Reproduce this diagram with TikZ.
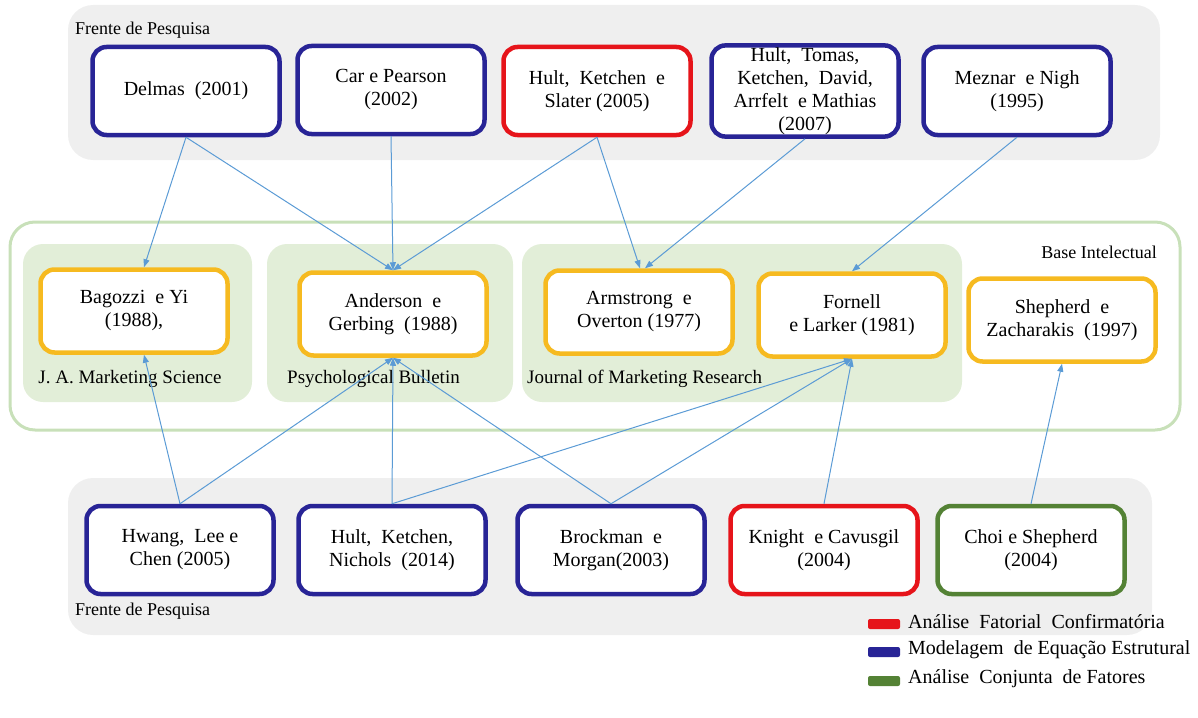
\documentclass[tikz,border=0pt]{standalone}
\usepackage{fontspec}
\setmainfont{Liberation Serif}
\usetikzlibrary{arrows.meta}
\definecolor{panelgray}{RGB}{239,239,239}
\definecolor{boxblue}{RGB}{40,36,150}
\definecolor{boxred}{RGB}{230,20,26}
\definecolor{boxgreen}{RGB}{84,130,53}
\definecolor{boxgold}{RGB}{246,186,32}
\definecolor{panelgreen}{RGB}{226,238,216}
\definecolor{outergreen}{RGB}{200,224,185}
\definecolor{arrowblue}{RGB}{91,155,213}
\begin{document}
\begin{tikzpicture}[x=1pt,y=-1pt,
  paper/.style={rectangle, rounded corners=14pt, line width=4.5pt, fill=white, align=center,
    font=\fontsize{20}{23}\selectfont, minimum width=187pt, minimum height=88pt, inner sep=2pt},
  sem/.style={paper, draw=boxblue},
  afc/.style={paper, draw=boxred},
  acf/.style={paper, draw=boxgreen},
  base/.style={paper, draw=boxgold, minimum height=83pt},
  graypanel/.style={fill=panelgray, rounded corners=25pt},
  greenpanel/.style={fill=panelgreen, rounded corners=20pt},
  lbl/.style={font=\fontsize{19}{22}\selectfont, inner sep=0pt},
  link/.style={draw=arrowblue, line width=1pt, -{Triangle[length=8pt,width=6pt]}},
  legbox/.style={rectangle, rounded corners=2pt, minimum width=32pt, minimum height=10pt, inner sep=0pt},
  legtxt/.style={font=\fontsize{20}{23}\selectfont, anchor=west, inner sep=0pt}
]
\useasboundingbox (0,0) rectangle (1198,717);
% panels
\fill[graypanel] (68,5) rectangle (1160,160);
\fill[graypanel] (68,478) rectangle (1152,635);
\draw[outergreen, line width=3pt, rounded corners=25pt] (10,222) rectangle (1180,430);
\fill[greenpanel] (23,244) rectangle (252,402);
\fill[greenpanel] (267,244) rectangle (513,402);
\fill[greenpanel] (522,244) rectangle (962,402);
% labels
\node[lbl, anchor=west, font=\fontsize{18}{21}\selectfont] (fp1) at (75,30) {Frente de Pesquisa};
\node[lbl, anchor=west, font=\fontsize{18}{21}\selectfont] (fp2) at (75,611) {Frente de Pesquisa};
\node[lbl, anchor=east, font=\fontsize{18}{21}\selectfont] (bi) at (1157,252) {Base Intelectual};
\node[lbl] (jams) at (130,379) {J. A. Marketing Science};
\node[lbl, anchor=west] (pb) at (287,379) {Psychological Bulletin};
\node[lbl, anchor=west] (jmr) at (527,379) {Journal of Marketing Research};
% top boxes
\node[sem] (delmas) at (186,91) {Delmas~ (2001)};
\node[sem] (car) at (391,90) {Car e Pearson\\(2002)};
\node[afc] (hks) at (597,91) {Hult,~ Ketchen~ e\\Slater (2005)};
\node[sem] (htomas) at (805,91) {Hult,~ Tomas,\\Ketchen,~ David,\\Arrfelt~ e Mathias\\(2007)};
\node[sem] (meznar) at (1017,91) {Meznar~ e Nigh\\(1995)};
% middle boxes
\node[base] (bagozzi) at (134,311) {Bagozzi~ e Yi\\(1988),};
\node[base] (anderson) at (393,314) {Anderson~ e\\Gerbing~ (1988)};
\node[base] (armstrong) at (639,312) {Armstrong~ e\\Overton (1977)};
\node[base] (fornell) at (852,315) {Fornell\\e Larker (1981)};
\node[base] (shepherd) at (1062,320) {Shepherd~ e\\Zacharakis~ (1997)};
% bottom boxes
\node[sem] (hwang) at (180,550) {Hwang,~ Lee e\\Chen (2005)};
\node[sem] (hkn) at (392,550) {Hult,~ Ketchen,\\Nichols~ (2014)};
\node[sem] (brockman) at (611,550) {Brockman~ e\\Morgan(2003)};
\node[afc] (knight) at (824,550) {Knight~ e Cavusgil\\(2004)};
\node[acf] (choi) at (1031,550) {Choi e Shepherd\\(2004)};
% connectors
\draw[link] (delmas.south) -- ([xshift=10pt]bagozzi.north);
\draw[link] (delmas.south) -- (anderson.north);
\draw[link] (car.south) -- (anderson.north);
\draw[link] (hks.south) -- (anderson.north);
\draw[link] (hks.south) -- ([xshift=1pt]armstrong.north);
\draw[link] (htomas.south) -- ([xshift=6pt]armstrong.north);
\draw[link] (meznar.south) -- (fornell.north);
\draw[link] (hwang.north) -- ([xshift=10pt]bagozzi.south);
\draw[link] (hwang.north) -- (anderson.south);
\draw[link] (hkn.north) -- (anderson.south);
\draw[link] (hkn.north) -- (fornell.south);
\draw[link] (brockman.north) -- (anderson.south);
\draw[link] (brockman.north) -- (fornell.south);
\draw[link] (knight.north) -- (fornell.south);
\draw[link] (choi.north) -- (shepherd.south);
% legend
\node[legbox, fill=boxred] (lr) at (884,624) {};
\node[legbox, fill=boxblue] (lb) at (884,652) {};
\node[legbox, fill=boxgreen] (lg) at (884,681) {};
\node[legtxt] (tr) at (908,622) {Análise~ Fatorial~ Confirmatória};
\node[legtxt] (tb) at (908,650) {Modelagem~ de Equação Estrutural};
\node[legtxt] (tg) at (908,679) {Análise~ Conjunta~ de Fatores};
\end{tikzpicture}
\end{document}
